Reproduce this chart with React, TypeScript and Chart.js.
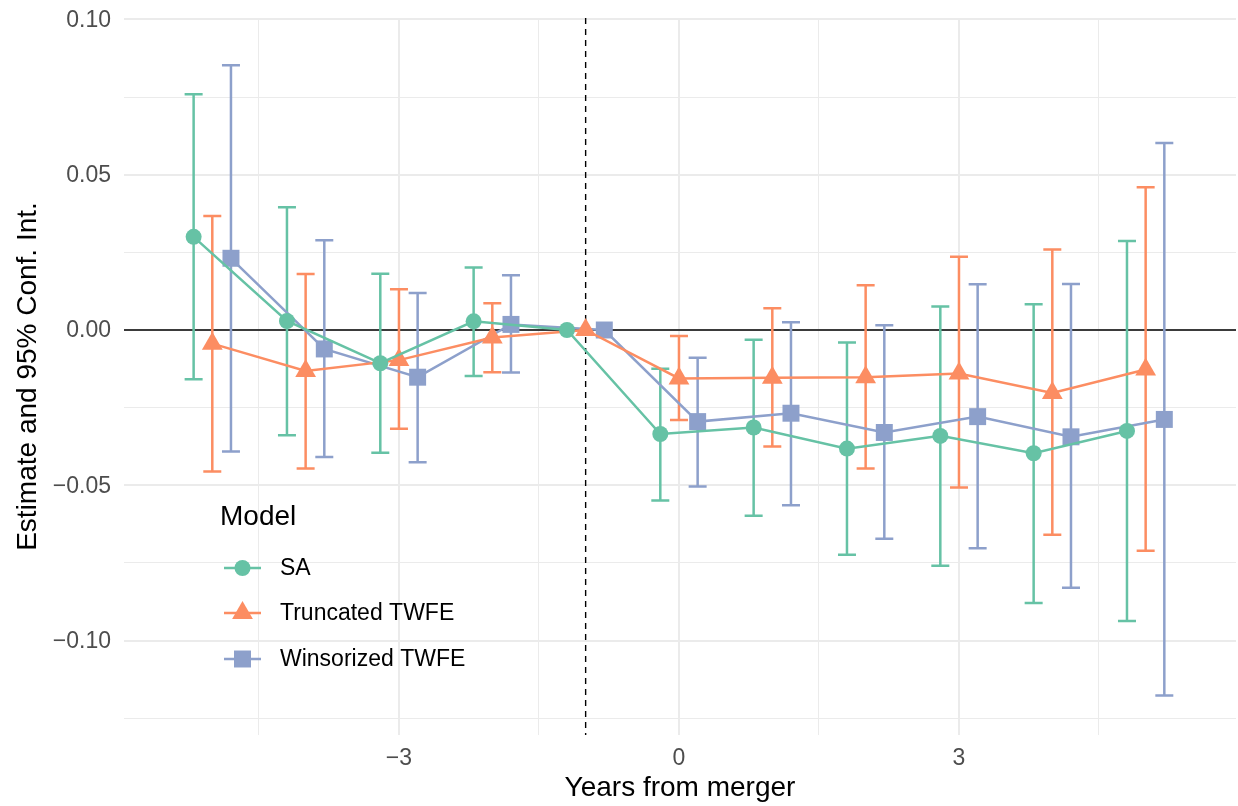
import React, { useEffect, useRef } from 'react';
import { Chart, registerables } from 'chart.js';

Chart.register(...registerables);

// ---------- data ----------
const years = [-5, -4, -3, -2, -1, 0, 1, 2, 3, 4, 5];
const modelNames = ['SA', 'Truncated TWFE', 'Winsorized TWFE'];
const modelColors = ['#66C2A5', '#FC8D62', '#8DA0CB'];
const modelShapes = ['circle', 'triangle', 'rect'];
const dodge = [-0.2, 0, 0.2];

const saEst = [0.0300, 0.0029, -0.0107, 0.0028, 0, -0.0335, -0.0314, -0.0382, -0.0341, -0.0397, -0.0325];
const saLo = [-0.0159, -0.0339, -0.0395, -0.0148, null, -0.0549, -0.0598, -0.0724, -0.0759, -0.0879, -0.0937];
const saHi = [0.0759, 0.0395, 0.0181, 0.0201, null, -0.0125, -0.0031, -0.0040, 0.0076, 0.0083, 0.0287];

const truncEst = [-0.0044, -0.0132, -0.0097, -0.0024, 0, -0.0156, -0.0154, -0.0152, -0.0140, -0.0203, -0.0127];
const truncLo = [-0.0456, -0.0446, -0.0318, -0.0136, null, -0.0290, -0.0375, -0.0446, -0.0507, -0.0659, -0.0711];
const truncHi = [0.0367, 0.0180, 0.0131, 0.0086, null, -0.0019, 0.0070, 0.0144, 0.0236, 0.0259, 0.0460];

const winsEst = [0.0231, -0.0061, -0.0152, 0.0018, 0, -0.0295, -0.0268, -0.0330, -0.0279, -0.0344, -0.0288];
const winsLo = [-0.0391, -0.0409, -0.0426, -0.0137, null, -0.0504, -0.0564, -0.0672, -0.0703, -0.0830, -0.1177];
const winsHi = [0.0853, 0.0289, 0.0119, 0.0176, null, -0.0089, 0.0025, 0.0015, 0.0147, 0.0148, 0.0602];

const estimates = [saEst, truncEst, winsEst];
const lowers = [saLo, truncLo, winsLo];
const uppers = [saHi, truncHi, winsHi];

const xTickValues = [-4.5, -3, -1.5, 0, 1.5, 3, 4.5];
const xLabelValues = [-3, 0, 3];
const xLabelTexts = ['\u22123', '0', '3'];
const yTickValues = [-0.125, -0.1, -0.075, -0.05, -0.025, 0, 0.025, 0.05, 0.075, 0.1];
const yLabelValues = [-0.1, -0.05, 0, 0.05, 0.1];
const yLabelTexts = ['\u22120.10', '\u22120.05', '0.00', '0.05', '0.10'];
const referenceYear = -1;

const xTitle = 'Years from merger';
const yTitle = 'Estimate and 95% Conf. Int.';
const legendTitle = 'Model';

const FONT = "'Liberation Sans', Arial, Helvetica, sans-serif";
const GRID = '#EBEBEB';

const markerRadius = [8, 12, 12];
const LINE_W = 2.5;

function drawMarker(ctx: CanvasRenderingContext2D, shape: string, x: number, y: number, r: number, color: string) {
  ctx.save();
  ctx.fillStyle = color;
  ctx.beginPath();
  if (shape === 'circle') {
    ctx.arc(x, y, r, 0, Math.PI * 2);
  } else if (shape === 'triangle') {
    for (let k = 0; k < 3; k++) {
      const a = -Math.PI / 2 + (k * 2 * Math.PI) / 3;
      const px = x + Math.cos(a) * r;
      const py = y + Math.sin(a) * r;
      if (k === 0) ctx.moveTo(px, py);
      else ctx.lineTo(px, py);
    }
    ctx.closePath();
  } else {
    const s = Math.SQRT1_2 * r;
    ctx.rect(x - s, y - s, 2 * s, 2 * s);
  }
  ctx.fill();
  ctx.restore();
}

const overlayPlugin = {
  id: 'overlay',
  beforeDatasetsDraw(chart: any) {
    const { ctx, chartArea, scales } = chart;
    const xs = scales.x;
    const ys = scales.y;
    ctx.save();
    // zero line
    ctx.strokeStyle = '#000000';
    ctx.lineWidth = 1.4;
    const y0 = ys.getPixelForValue(0);
    ctx.beginPath();
    ctx.moveTo(chartArea.left, y0);
    ctx.lineTo(chartArea.right, y0);
    ctx.stroke();
    // reference dashed line
    const xr = xs.getPixelForValue(referenceYear);
    ctx.setLineDash([6, 5]);
    ctx.beginPath();
    ctx.moveTo(xr, chartArea.top);
    ctx.lineTo(xr, chartArea.bottom);
    ctx.stroke();
    ctx.setLineDash([]);
    // error bars
    ctx.lineWidth = LINE_W;
    ctx.lineCap = 'butt';
    for (let m = 0; m < modelNames.length; m++) {
      ctx.strokeStyle = modelColors[m];
      for (let i = 0; i < years.length; i++) {
        const lo = lowers[m][i];
        const hi = uppers[m][i];
        if (lo === null || hi === null) continue;
        const px = xs.getPixelForValue(years[i] + dodge[m]);
        const pl = ys.getPixelForValue(lo);
        const ph = ys.getPixelForValue(hi);
        ctx.beginPath();
        ctx.moveTo(px, pl);
        ctx.lineTo(px, ph);
        ctx.moveTo(px - 9, pl);
        ctx.lineTo(px + 9, pl);
        ctx.moveTo(px - 9, ph);
        ctx.lineTo(px + 9, ph);
        ctx.stroke();
      }
    }
    ctx.restore();
  },
  afterDraw(chart: any) {
    const { ctx, chartArea, scales } = chart;
    const xs = scales.x;
    const ys = scales.y;
    ctx.save();
    // tick labels
    ctx.fillStyle = '#4D4D4D';
    ctx.font = `23px ${FONT}`;
    ctx.textBaseline = 'middle';
    ctx.textAlign = 'right';
    yLabelValues.forEach((v, i) => {
      ctx.fillText(yLabelTexts[i], chartArea.left - 13, ys.getPixelForValue(v) + 1);
    });
    ctx.textAlign = 'center';
    xLabelValues.forEach((v, i) => {
      ctx.fillText(xLabelTexts[i], xs.getPixelForValue(v), 759);
    });
    // legend
    ctx.fillStyle = '#000000';
    ctx.textAlign = 'left';
    ctx.font = `28px ${FONT}`;
    ctx.fillText(legendTitle, 220, 517);
    const rowsY = [568, 613, 659];
    ctx.font = `23px ${FONT}`;
    for (let m = 0; m < modelNames.length; m++) {
      const y = rowsY[m];
      ctx.strokeStyle = modelColors[m];
      ctx.lineWidth = LINE_W;
      ctx.beginPath();
      ctx.moveTo(224, y);
      ctx.lineTo(261, y);
      ctx.stroke();
      drawMarker(ctx, modelShapes[m], 242.5, y, markerRadius[m], modelColors[m]);
      ctx.fillStyle = '#000000';
      ctx.fillText(modelNames[m], 280, y + 1);
    }
    ctx.restore();
  },
};

export default function App() {
  const canvasRef = useRef<HTMLCanvasElement | null>(null);

  useEffect(() => {
    if (!canvasRef.current) return;
    const datasets = modelNames.map((name, m) => ({
      label: name,
      data: years.map((yr, i) => ({ x: yr + dodge[m], y: estimates[m][i] })),
      borderColor: modelColors[m],
      backgroundColor: modelColors[m],
      borderWidth: LINE_W,
      pointStyle: modelShapes[m],
      pointRadius: markerRadius[m],
      pointBorderWidth: 0,
      pointBackgroundColor: modelColors[m],
      pointBorderColor: modelColors[m],
      tension: 0,
      fill: false,
      clip: false as any,
    }));

    const chart = new Chart(canvasRef.current, {
      type: 'line',
      data: { datasets },
      plugins: [overlayPlugin],
      options: {
        responsive: false,
        animation: false,
        events: [],
        layout: { autoPadding: false, padding: { top: 18, right: 2, left: 0, bottom: 0 } },
        plugins: { legend: { display: false }, tooltip: { enabled: false } },
        scales: {
          x: {
            type: 'linear',
            min: -5.946,
            max: 5.968,
            afterBuildTicks: (scale: any) => {
              scale.ticks = xTickValues.map((v) => ({ value: v }));
            },
            afterFit: (scale: any) => {
              scale.height = 71;
            },
            grid: {
              color: GRID,
              lineWidth: (c: any) => (c.tick && Math.abs(c.tick.value % 3) < 1e-9 ? 2 : 1),
              drawTicks: false,
            },
            border: { display: false },
            ticks: { display: false },
            title: {
              display: true,
              text: xTitle,
              color: '#000000',
              font: { family: FONT, size: 28, lineHeight: 1 },
              padding: { top: 0, bottom: 4 },
            },
          },
          y: {
            type: 'linear',
            min: -0.13043,
            max: 0.10048,
            afterBuildTicks: (scale: any) => {
              scale.ticks = yTickValues.map((v) => ({ value: v }));
            },
            afterFit: (scale: any) => {
              scale.width = 124;
            },
            grid: {
              color: GRID,
              lineWidth: (c: any) => {
                if (!c.tick) return 1;
                const r = c.tick.value / 0.05;
                return Math.abs(r - Math.round(r)) < 1e-6 ? 2 : 1;
              },
              drawTicks: false,
            },
            border: { display: false },
            ticks: { display: false },
            title: {
              display: true,
              text: yTitle,
              color: '#000000',
              font: { family: FONT, size: 28, lineHeight: 1 },
              padding: { top: 14, bottom: 0 },
            },
          },
        },
      } as any,
    });
    return () => chart.destroy();
  }, []);

  return (
    <div style={{ position: 'fixed', left: 0, top: 0, width: 1238, height: 806, background: '#ffffff' }}>
      <canvas ref={canvasRef} width={1238} height={806} style={{ display: 'block', width: 1238, height: 806 }} />
    </div>
  );
}
